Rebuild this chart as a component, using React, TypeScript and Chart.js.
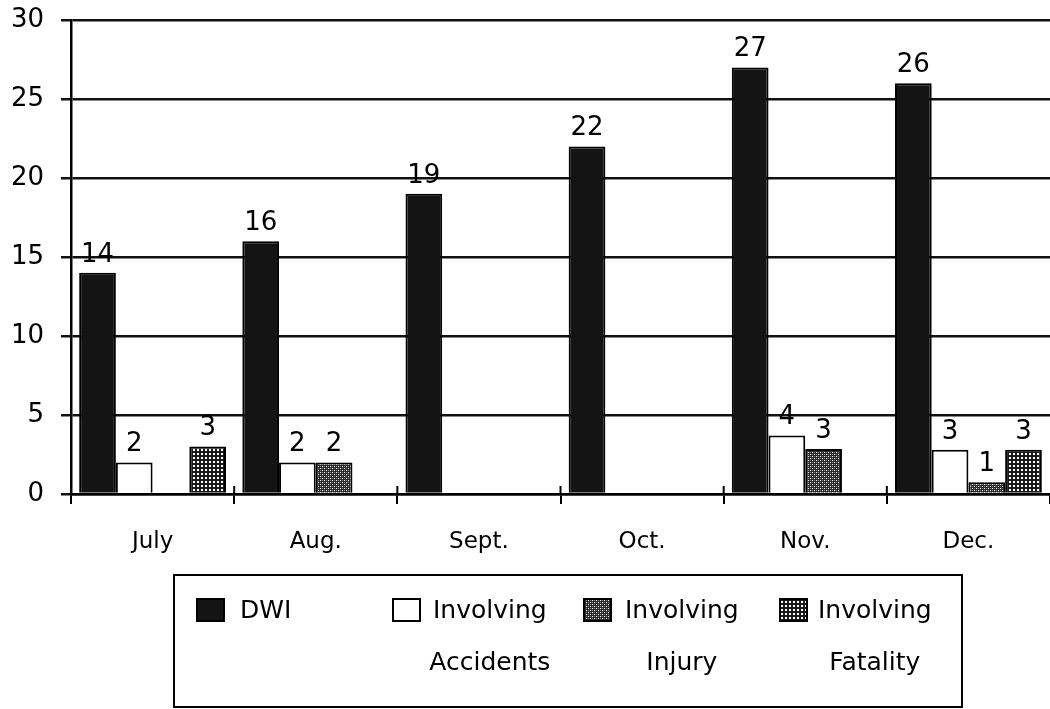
import React, { useEffect, useRef } from "react";
import { Chart, registerables } from "chart.js";

Chart.register(...registerables);

const categories = ["July", "Aug.", "Sept.", "Oct.", "Nov.", "Dec."];
const dwi = [14, 16, 19, 22, 27, 26];
const accidents = [2, 2, 0, 0, 3.7, 2.8];
const injury = [0, 2, 0, 0, 2.85, 0.75];
const fatality = [3, 0, 0, 0, 0, 2.8];
const seriesLabels = [
  ["DWI"],
  ["Involving", "Accidents"],
  ["Involving", "Injury"],
  ["Involving", "Fatality"],
];
const yMin = 0;
const yMax = 30;
const yStep = 5;

const FONT = "'DejaVu Sans', sans-serif";

function makePattern(kind: string): CanvasPattern | string {
  const c = document.createElement("canvas");
  c.width = 4;
  c.height = 4;
  const g = c.getContext("2d");
  if (!g) return "#333";
  if (kind === "injury") {
    g.fillStyle = "#2a2a2a";
    g.fillRect(0, 0, 4, 4);
    g.fillStyle = "#ffffff";
    g.fillRect(0, 0, 1, 1);
    g.fillRect(2, 2, 1, 1);
    g.fillStyle = "#8a8a8a";
    g.fillRect(2, 0, 1, 1);
    g.fillRect(0, 2, 1, 1);
  } else {
    g.fillStyle = "#1a1a1a";
    g.fillRect(0, 0, 4, 4);
    g.fillStyle = "#ffffff";
    g.fillRect(1, 1, 2, 2);
  }
  const p = g.createPattern(c, "repeat");
  return p || "#333";
}

export default function App() {
  const ref = useRef<HTMLCanvasElement | null>(null);

  useEffect(() => {
    if (!ref.current) return;
    const injuryPat = makePattern("injury");
    const fatalPat = makePattern("fatality");
    const fills: any[] = ["#141414", "#ffffff", injuryPat, fatalPat];

    const valueLabels = {
      id: "valueLabels",
      afterDatasetsDraw(chart: any) {
        const ctx = chart.ctx;
        ctx.save();
        ctx.font = `26px ${FONT}`;
        ctx.fillStyle = "#000";
        ctx.textAlign = "center";
        ctx.textBaseline = "bottom";
        chart.data.datasets.forEach((ds: any, i: number) => {
          const meta = chart.getDatasetMeta(i);
          meta.data.forEach((el: any, j: number) => {
            const v = ds.data[j];
            if (!v) return;
            ctx.fillText(String(Math.round(v)), el.x, el.y - 5);
          });
        });
        ctx.restore();
      },
    };

    const crossTicks = {
      id: "crossTicks",
      afterDraw(chart: any) {
        const ctx = chart.ctx;
        const xs = chart.scales.x;
        const bottom = chart.chartArea.bottom;
        const n = categories.length;
        const w = (xs.right - xs.left) / n;
        ctx.save();
        ctx.strokeStyle = "#000";
        ctx.lineWidth = 2;
        for (let i = 1; i < n; i++) {
          const x = xs.left + w * i;
          ctx.beginPath();
          ctx.moveTo(x, bottom - 8);
          ctx.lineTo(x, bottom);
          ctx.stroke();
        }
        ctx.restore();
      },
    };

    const boxLegend = {
      id: "boxLegend",
      afterDraw(chart: any) {
        const ctx = chart.ctx;
        ctx.save();
        ctx.strokeStyle = "#000";
        ctx.lineWidth = 2;
        ctx.strokeRect(174, 575, 788, 132);
        const swX = [197, 393, 584, 780];
        const txX = [240, 433, 625, 818];
        ctx.font = `25px ${FONT}`;
        ctx.fillStyle = "#000";
        ctx.textBaseline = "middle";
        seriesLabels.forEach((lines, i) => {
          ctx.fillStyle = fills[i];
          ctx.fillRect(swX[i], 599, 27, 22);
          ctx.strokeStyle = "#000";
          ctx.lineWidth = 2;
          ctx.strokeRect(swX[i], 599, 27, 22);
          ctx.fillStyle = "#000";
          ctx.textAlign = "left";
          ctx.fillText(lines[0], txX[i], 611);
          if (lines[1]) {
            const w = ctx.measureText(lines[0]).width;
            ctx.textAlign = "center";
            ctx.fillText(lines[1], txX[i] + w / 2, 663);
          }
        });
        ctx.restore();
      },
    };

    const seriesData = [dwi, accidents, injury, fatality];
    const chart = new Chart(ref.current, {
      type: "bar",
      data: {
        labels: categories,
        datasets: seriesData.map((d, i) => ({
          label: seriesLabels[i].join(" "),
          data: d,
          backgroundColor: fills[i],
          borderColor: "#000",
          borderWidth: 2,
          barPercentage: 1,
          categoryPercentage: 0.9,
        })),
      },
      options: {
        responsive: false,
        animation: false,
        devicePixelRatio: 1,
        layout: { padding: { top: 20, left: 0, right: 0, bottom: 0 } },
        plugins: {
          legend: { display: false },
          tooltip: { enabled: false },
        },
        scales: {
          x: {
            offset: true,
            grid: {
              offset: true,
              drawOnChartArea: false,
              drawTicks: true,
              tickLength: 10,
              color: "#000",
              lineWidth: 2,
            },
            border: { display: true, color: "#000", width: 2.5 },
            ticks: { font: { family: FONT, size: 23 }, color: "#000", padding: 24 },
            afterFit: (s: any) => {
              s.height = 215;
              s.paddingLeft = 0;
              s.paddingRight = 0;
            },
          },
          y: {
            min: yMin,
            max: yMax,
            ticks: { stepSize: yStep, font: { family: FONT, size: 26 }, color: "#000", padding: 17 },
            grid: { color: "#111", lineWidth: 2.5, tickLength: 10 },
            border: { display: true, color: "#000", width: 2.5 },
            afterFit: (s: any) => {
              s.width = 71;
              s.paddingTop = 0;
              s.paddingBottom = 0;
            },
          },
        },
      },
      plugins: [valueLabels, crossTicks, boxLegend],
    } as any);
    return () => chart.destroy();
  }, []);

  return (
    <div style={{ position: "absolute", left: 0, top: 0, width: 1050, height: 709, background: "#fff" }}>
      <canvas ref={ref} width={1050} height={709} style={{ display: "block" }} />
    </div>
  );
}
